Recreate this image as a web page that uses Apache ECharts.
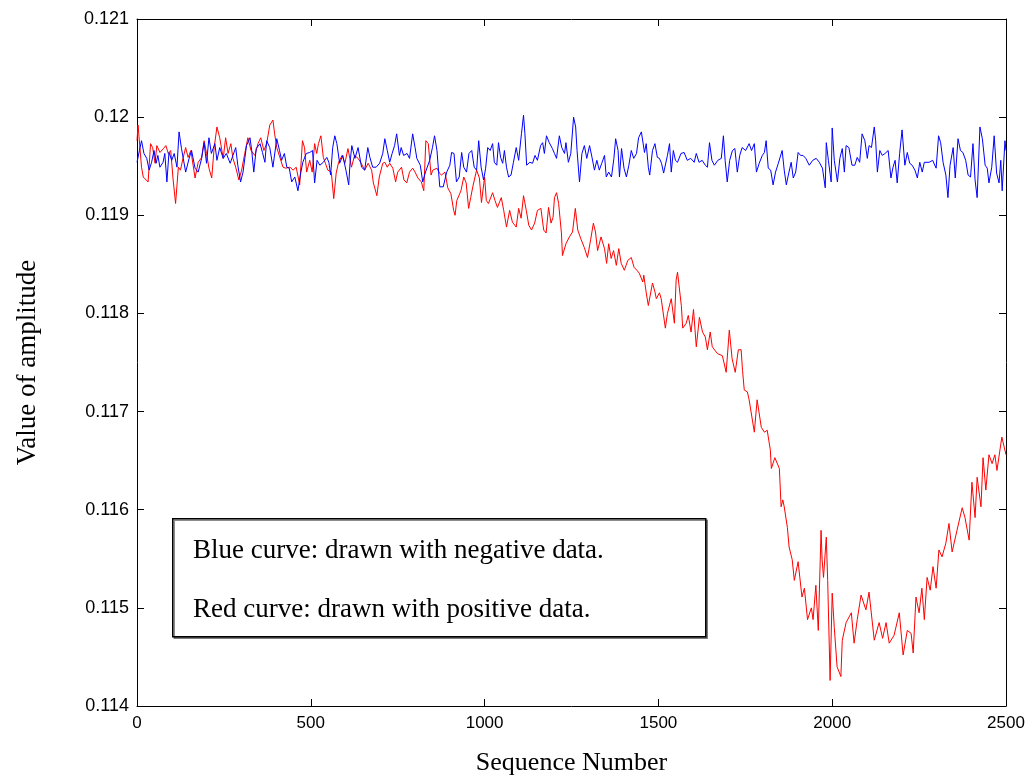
<!DOCTYPE html>
<html>
<head>
<meta charset="utf-8">
<script src="https://cdn.jsdelivr.net/npm/echarts@6/dist/echarts.min.js"></script>
<style>
html,body{margin:0;padding:0;background:#fff;}
#chart{width:1032px;height:778px;}
</style>
</head>
<body>
<div id="chart"></div>
<script>
// Sequence number ticks and amplitude ticks
const xTicks = [0, 500, 1000, 1500, 2000, 2500];
const yTicks = [0.114, 0.115, 0.116, 0.117, 0.118, 0.119, 0.12, 0.121];

// Blue curve: [sequence number, amplitude]
const bluePoints = [
[0,0.11954],[7,0.11966],[13,0.11976],[20,0.11963],[28,0.11958],[35,0.11946],[42,0.11954],[49,0.11966],[55,0.11953],[60,0.11961],
[66,0.11949],[75,0.11954],[80,0.11963],[86,0.11934],[92,0.11964],[100,0.11956],[107,0.11963],[115,0.11949],[121,0.11985],[128,0.11968],
[133,0.11958],[140,0.11944],[150,0.11958],[157,0.11966],[167,0.11948],[176,0.11944],[186,0.11958],[193,0.11974],[200,0.11953],[207,0.11979],
[214,0.11963],[224,0.11973],[230,0.11956],[238,0.11969],[248,0.11958],[257,0.11963],[268,0.11953],[276,0.11961],[284,0.11969],[290,0.11951],
[298,0.11934],[305,0.11944],[315,0.11971],[325,0.11979],[330,0.11966],[336,0.11944],[343,0.11968],[354,0.11973],[361,0.11964],[368,0.11954],
[373,0.11976],[382,0.11969],[391,0.11949],[402,0.11978],[410,0.11966],[416,0.11956],[424,0.11963],[431,0.11949],[438,0.11948],[445,0.11934],
[454,0.11939],[463,0.11925],[470,0.11941],[477,0.11954],[487,0.11963],[497,0.11964],[505,0.11966],[511,0.11933],[518,0.11956],[526,0.11951],
[536,0.11954],[546,0.11959],[552,0.11954],[557,0.11941],[563,0.11969],[569,0.11981],[575,0.11973],[583,0.11953],[592,0.11961],[601,0.11946],
[609,0.11931],[613,0.11954],[618,0.11971],[627,0.11958],[636,0.11969],[646,0.11949],[655,0.11946],[664,0.11969],[670,0.11959],[678,0.11949],
[688,0.11949],[698,0.11953],[707,0.11963],[713,0.11978],[720,0.11966],[727,0.11954],[734,0.11963],[741,0.11971],[747,0.11983],[755,0.11961],
[760,0.11969],[767,0.11961],[777,0.11963],[784,0.11958],[793,0.11983],[800,0.11969],[805,0.11958],[815,0.11951],[822,0.11934],[830,0.11944],
[842,0.11956],[850,0.11969],[856,0.11981],[863,0.11966],[871,0.11929],[881,0.11929],[891,0.11944],[900,0.11951],[905,0.11964],[912,0.11963],
[919,0.11934],[927,0.11939],[934,0.11964],[940,0.11949],[948,0.11944],[955,0.11963],[963,0.11966],[970,0.11949],[977,0.11946],[983,0.11976],
[990,0.11949],[997,0.11936],[1003,0.11948],[1009,0.11969],[1016,0.11966],[1023,0.11973],[1028,0.11954],[1035,0.11951],[1040,0.11974],[1046,0.11959],
[1052,0.11953],[1057,0.11966],[1063,0.11949],[1069,0.11939],[1076,0.11941],[1083,0.11954],[1091,0.11969],[1098,0.11956],[1106,0.11983],[1112,0.12002],
[1116,0.11983],[1121,0.11951],[1130,0.11954],[1138,0.11953],[1145,0.11961],[1152,0.11956],[1161,0.11971],[1167,0.11974],[1172,0.11963],[1178,0.11981],
[1186,0.11974],[1195,0.11968],[1201,0.11963],[1207,0.11958],[1215,0.11981],[1222,0.11969],[1230,0.11963],[1234,0.11974],[1241,0.11954],[1248,0.11963],
[1256,0.12000],[1262,0.11990],[1266,0.11966],[1273,0.11934],[1280,0.11963],[1287,0.11971],[1294,0.11958],[1302,0.11971],[1309,0.11959],[1316,0.11946],
[1323,0.11956],[1330,0.11946],[1337,0.11953],[1345,0.11961],[1350,0.11939],[1357,0.11944],[1365,0.11939],[1372,0.11958],[1377,0.11978],[1384,0.11966],
[1388,0.11939],[1394,0.11968],[1401,0.11948],[1408,0.11939],[1415,0.11951],[1422,0.11966],[1429,0.11958],[1437,0.11963],[1443,0.11979],[1451,0.11985],
[1460,0.11964],[1465,0.11973],[1471,0.11949],[1475,0.11941],[1483,0.11966],[1490,0.11973],[1497,0.11959],[1503,0.11958],[1509,0.11953],[1515,0.11943],
[1520,0.11944],[1526,0.11961],[1532,0.11973],[1537,0.11944],[1543,0.11966],[1549,0.11956],[1555,0.11954],[1565,0.11963],[1574,0.11964],[1583,0.11956],
[1593,0.11958],[1603,0.11954],[1609,0.11963],[1617,0.11954],[1626,0.11956],[1635,0.11951],[1641,0.11949],[1647,0.11974],[1654,0.11956],[1661,0.11951],
[1671,0.11956],[1681,0.11958],[1687,0.11981],[1692,0.11956],[1698,0.11934],[1705,0.11956],[1713,0.11966],[1720,0.11968],[1727,0.11944],[1734,0.11961],
[1741,0.11969],[1751,0.11966],[1761,0.11973],[1768,0.11966],[1776,0.11973],[1782,0.11944],[1790,0.11953],[1799,0.11961],[1805,0.11964],[1810,0.11976],
[1816,0.11948],[1823,0.11946],[1830,0.11931],[1837,0.11944],[1845,0.11953],[1856,0.11966],[1862,0.11946],[1868,0.11931],[1875,0.11943],[1882,0.11954],
[1888,0.11938],[1895,0.11944],[1902,0.11964],[1909,0.11961],[1916,0.11961],[1924,0.11958],[1934,0.11951],[1944,0.11956],[1954,0.11958],[1963,0.11954],
[1972,0.11948],[1980,0.11928],[1983,0.11974],[1989,0.11956],[1997,0.11934],[2000,0.11989],[2006,0.11956],[2011,0.11944],[2015,0.11934],[2022,0.11958],
[2029,0.11968],[2035,0.11944],[2040,0.11971],[2048,0.11969],[2057,0.11951],[2065,0.11951],[2072,0.11959],[2079,0.11954],[2086,0.11983],[2094,0.11976],
[2101,0.11958],[2106,0.11971],[2113,0.11969],[2121,0.11990],[2125,0.11976],[2130,0.11944],[2137,0.11966],[2144,0.11961],[2152,0.11963],[2161,0.11966],
[2169,0.11938],[2175,0.11949],[2181,0.11956],[2187,0.11933],[2194,0.11963],[2201,0.11987],[2209,0.11951],[2216,0.11964],[2223,0.11953],[2230,0.11951],
[2238,0.11946],[2245,0.11938],[2252,0.11954],[2259,0.11944],[2265,0.11954],[2270,0.11953],[2279,0.11954],[2289,0.11956],[2299,0.11948],[2306,0.11981],
[2312,0.11974],[2319,0.11954],[2327,0.11941],[2333,0.11918],[2339,0.11951],[2348,0.11969],[2354,0.11938],[2362,0.11978],[2369,0.11966],[2376,0.11964],
[2384,0.11956],[2391,0.11941],[2398,0.11939],[2405,0.11973],[2411,0.11936],[2417,0.11918],[2425,0.11990],[2432,0.11978],[2440,0.11951],[2446,0.11948],
[2451,0.11933],[2459,0.11949],[2466,0.11981],[2473,0.11943],[2480,0.11933],[2485,0.11956],[2489,0.11925],[2497,0.11976],[2500,0.11966]
];

// Red curve: [sequence number, amplitude]
const redPoints = [
[0,0.11976],[3,0.11992],[13,0.11949],[18,0.11939],[32,0.11934],[39,0.11973],[45,0.11969],[52,0.11953],[57,0.11971],[66,0.11964],
[76,0.11968],[83,0.11971],[90,0.11963],[97,0.11966],[104,0.11936],[111,0.11912],[119,0.11949],[125,0.11946],[133,0.11959],[140,0.11969],
[147,0.11959],[155,0.11966],[167,0.11938],[176,0.11954],[186,0.11959],[193,0.11976],[200,0.11963],[207,0.11948],[215,0.11938],[222,0.11969],
[230,0.11990],[238,0.11979],[248,0.11958],[255,0.11979],[262,0.11963],[270,0.11973],[276,0.11958],[284,0.11949],[293,0.11936],[301,0.11946],
[310,0.11963],[319,0.11979],[328,0.11966],[339,0.11961],[348,0.11973],[356,0.11979],[365,0.11966],[373,0.11973],[382,0.11992],[391,0.11997],
[396,0.11983],[402,0.11969],[411,0.11959],[420,0.11949],[428,0.11948],[440,0.11949],[449,0.11946],[458,0.11949],[468,0.11931],[476,0.11976],
[482,0.11969],[488,0.11944],[497,0.11956],[504,0.11944],[511,0.11973],[517,0.11963],[522,0.11973],[529,0.11981],[536,0.11959],[542,0.11953],
[549,0.11946],[559,0.11944],[566,0.11917],[573,0.11943],[580,0.11954],[590,0.11961],[598,0.11953],[607,0.11968],[617,0.11949],[626,0.11961],
[636,0.11958],[645,0.11953],[655,0.11946],[665,0.11953],[675,0.11946],[680,0.11933],[690,0.11920],[697,0.11939],[707,0.11953],[713,0.11954],
[720,0.11949],[727,0.11953],[736,0.11948],[744,0.11934],[750,0.11944],[761,0.11949],[768,0.11936],[776,0.11933],[784,0.11944],[793,0.11948],
[800,0.11944],[808,0.11938],[818,0.11934],[825,0.11925],[831,0.11976],[838,0.11973],[846,0.11941],[851,0.11946],[863,0.11948],[870,0.11943],
[876,0.11941],[886,0.11944],[894,0.11928],[903,0.11922],[911,0.11905],[915,0.11900],[920,0.11915],[925,0.11917],[932,0.11925],[940,0.11939],
[947,0.11933],[954,0.11907],[960,0.11918],[966,0.11929],[977,0.11946],[985,0.11938],[991,0.11913],[1000,0.11939],[1005,0.11915],[1011,0.11912],
[1023,0.11923],[1030,0.11915],[1037,0.11908],[1048,0.11918],[1055,0.11905],[1063,0.11888],[1072,0.11905],[1080,0.11893],[1091,0.11888],[1098,0.11907],
[1105,0.11897],[1112,0.11920],[1120,0.11905],[1127,0.11890],[1135,0.11885],[1144,0.11892],[1152,0.11905],[1162,0.11907],[1170,0.11885],[1177,0.11882],
[1184,0.11908],[1191,0.11892],[1197,0.11898],[1201,0.11918],[1207,0.11923],[1213,0.11912],[1221,0.11882],[1224,0.11859],[1234,0.11871],[1244,0.11878],
[1253,0.11883],[1261,0.11907],[1268,0.11885],[1278,0.11875],[1287,0.11867],[1296,0.11857],[1305,0.11875],[1313,0.11892],[1319,0.11883],[1325,0.11864],
[1335,0.11878],[1345,0.11866],[1351,0.11851],[1357,0.11871],[1364,0.11856],[1371,0.11864],[1379,0.11849],[1386,0.11866],[1393,0.11851],[1402,0.11844],
[1412,0.11854],[1422,0.11857],[1430,0.11847],[1438,0.11844],[1445,0.11841],[1455,0.11832],[1458,0.11839],[1465,0.11821],[1471,0.11808],[1483,0.11831],
[1490,0.11822],[1494,0.11815],[1503,0.11821],[1508,0.11815],[1520,0.11785],[1526,0.11800],[1537,0.11815],[1546,0.11790],[1551,0.11834],[1555,0.11842],
[1566,0.11808],[1570,0.11785],[1580,0.11790],[1586,0.11798],[1594,0.11781],[1601,0.11804],[1609,0.11766],[1618,0.11796],[1627,0.11781],[1635,0.11776],
[1641,0.11763],[1649,0.11781],[1655,0.11766],[1670,0.11759],[1684,0.11757],[1695,0.11740],[1704,0.11783],[1712,0.11754],[1721,0.11740],[1730,0.11763],
[1738,0.11763],[1742,0.11742],[1747,0.11722],[1756,0.11720],[1761,0.11712],[1776,0.11679],[1784,0.11712],[1796,0.11684],[1805,0.11679],[1813,0.11681],
[1822,0.11661],[1825,0.11642],[1835,0.11653],[1848,0.11642],[1853,0.11603],[1858,0.11610],[1862,0.11603],[1871,0.11582],[1876,0.11562],[1885,0.11549],
[1891,0.11528],[1902,0.11547],[1913,0.11511],[1920,0.11520],[1929,0.11488],[1940,0.11500],[1945,0.11488],[1953,0.11523],[1960,0.11477],[1968,0.11579],
[1971,0.11549],[1975,0.11531],[1983,0.11572],[1987,0.11528],[1994,0.11426],[2000,0.11515],[2006,0.11480],[2014,0.11440],[2025,0.11430],[2029,0.11467],
[2040,0.11485],[2055,0.11495],[2063,0.11464],[2072,0.11488],[2083,0.11513],[2097,0.11498],[2106,0.11516],[2121,0.11467],[2135,0.11485],[2145,0.11469],
[2155,0.11485],[2164,0.11464],[2178,0.11472],[2193,0.11495],[2204,0.11452],[2216,0.11477],[2227,0.11474],[2233,0.11454],[2241,0.11511],[2250,0.11495],
[2258,0.11520],[2265,0.11488],[2273,0.11531],[2282,0.11518],[2290,0.11542],[2299,0.11520],[2307,0.11559],[2316,0.11552],[2327,0.11566],[2336,0.11586],
[2345,0.11557],[2359,0.11579],[2374,0.11602],[2382,0.11592],[2394,0.11569],[2402,0.11628],[2411,0.11592],[2417,0.11633],[2428,0.11603],[2434,0.11653],
[2442,0.11620],[2451,0.11656],[2460,0.11647],[2468,0.11656],[2474,0.11640],[2488,0.11674],[2500,0.11656]
];

const legendLines = ['Blue curve: drawn with negative data.', 'Red curve: drawn with positive data.'];

const chart = echarts.init(document.getElementById('chart'), null, {renderer: 'canvas'});
const fmtY = v => String(parseFloat(Number(v).toFixed(3)));
const fmtX = v => String(Math.round(v));
const axisCommon = {
  axisLine: {show: true, onZero: false, lineStyle: {color: '#000', width: 1}},
  axisTick: {show: true, inside: true, length: 7, lineStyle: {color: '#000', width: 1}},
  splitLine: {show: false}
};
chart.setOption({
  animation: false,
  backgroundColor: '#fff',
  grid: {left: 137, right: 26, top: 19, bottom: 72, outerBoundsMode: 'none', containLabel: false},
  xAxis: [
    Object.assign({
      type: 'value', position: 'bottom',
      min: xTicks[0], max: xTicks[xTicks.length - 1], interval: xTicks[1] - xTicks[0],
      name: 'Sequence Number', nameLocation: 'middle', nameGap: 44,
      nameTextStyle: {fontFamily: 'Liberation Serif', fontSize: 26, color: '#000'},
      axisLabel: {fontFamily: 'Liberation Sans', fontSize: 17, color: '#000', margin: 9, formatter: fmtX}
    }, axisCommon),
    Object.assign({
      type: 'value', position: 'top',
      min: xTicks[0], max: xTicks[xTicks.length - 1], interval: xTicks[1] - xTicks[0],
      axisLabel: {show: false}
    }, axisCommon)
  ],
  yAxis: [
    Object.assign({
      type: 'value', position: 'left',
      min: yTicks[0], max: yTicks[yTicks.length - 1], interval: 0.001,
      name: 'Value of amplitude', nameLocation: 'middle', nameGap: 96, nameRotate: 90,
      nameTextStyle: {fontFamily: 'Liberation Serif', fontSize: 27, color: '#000'},
      axisLabel: {fontFamily: 'Liberation Sans', fontSize: 18, color: '#000', margin: 8, formatter: fmtY}
    }, axisCommon),
    Object.assign({
      type: 'value', position: 'right',
      min: yTicks[0], max: yTicks[yTicks.length - 1], interval: 0.001,
      axisLabel: {show: false}
    }, axisCommon)
  ],
  series: [
    {type: 'line', name: 'Blue', data: bluePoints, showSymbol: false, symbol: 'none',
     lineStyle: {color: '#0000ff', width: 1}, itemStyle: {color: '#0000ff'}, z: 3},
    {type: 'line', name: 'Red', data: redPoints, showSymbol: false, symbol: 'none',
     lineStyle: {color: '#ff0000', width: 1}, itemStyle: {color: '#ff0000'}, z: 2}
  ],
  graphic: [
    {type: 'rect', left: 172, top: 518, z: 10,
     shape: {width: 533, height: 118},
     style: {fill: '#fff', stroke: '#000', lineWidth: 1.5, shadowColor: 'rgba(0,0,0,0.45)', shadowOffsetX: 1.5, shadowOffsetY: 1.5, shadowBlur: 0}},
    {type: 'text', left: 193, top: 537, z: 11,
     style: {text: legendLines[0], fontFamily: 'Liberation Serif', fontSize: 27, fill: '#000'}},
    {type: 'text', left: 193, top: 596, z: 11,
     style: {text: legendLines[1], fontFamily: 'Liberation Serif', fontSize: 27, fill: '#000'}}
  ]
});
</script>
</body>
</html>
